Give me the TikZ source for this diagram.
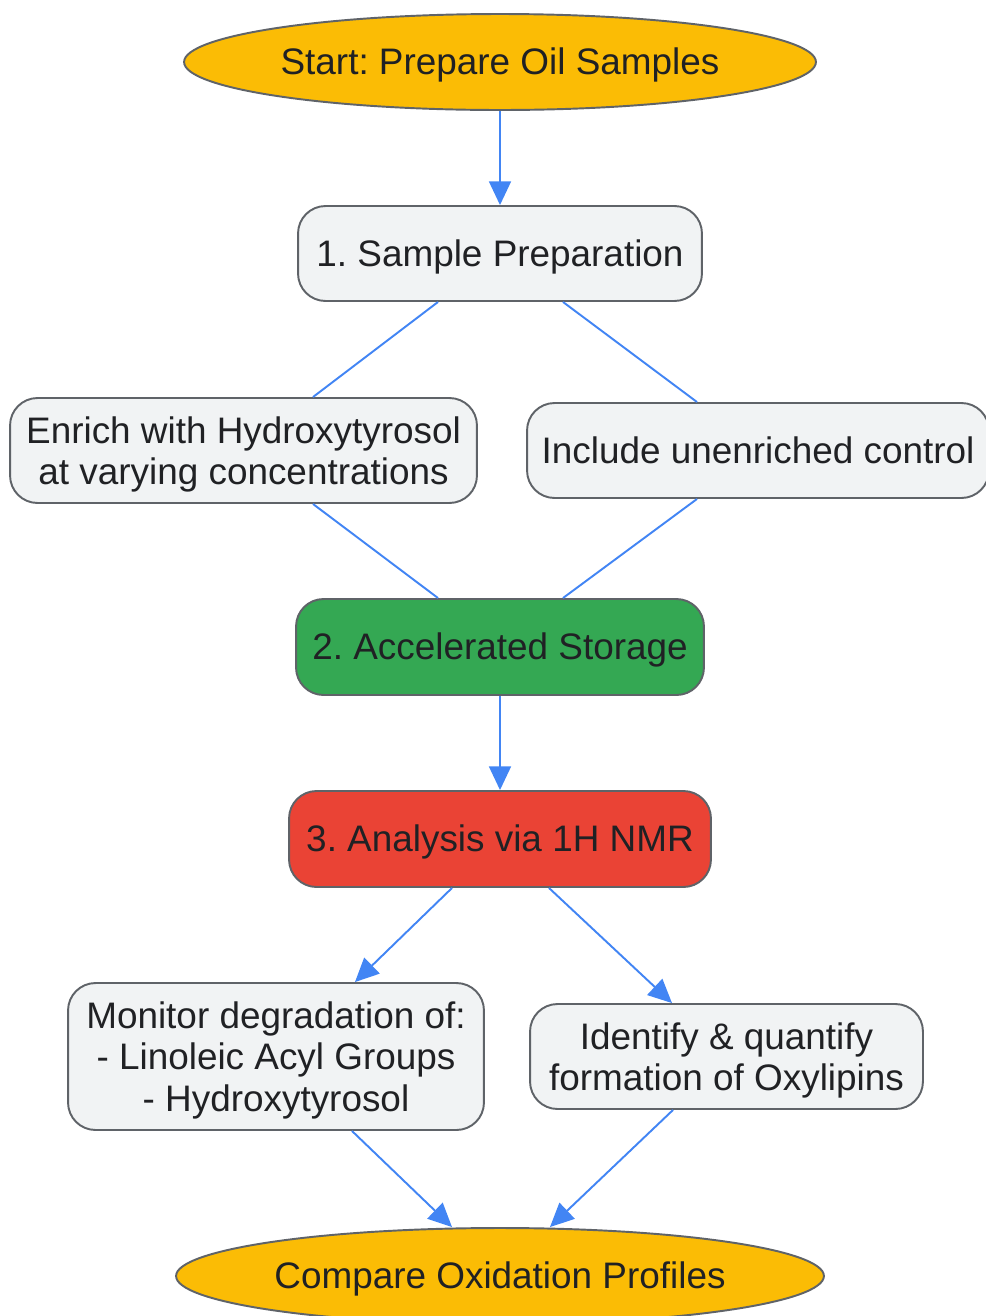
\documentclass[tikz,border=0pt]{standalone}
\usepackage{fontspec}
\setmainfont{Liberation Sans}
\usetikzlibrary{%
    arrows.meta,
    positioning,
    calc,
    shapes.geometric
}

\definecolor{termfill}{HTML}{FBBC05}
\definecolor{stepfill}{HTML}{F1F3F4}
\definecolor{storefill}{HTML}{34A853}
\definecolor{nmrfill}{HTML}{EA4335}
\definecolor{edgeblue}{HTML}{4285F4}
\definecolor{rimgray}{HTML}{5F6368}
\definecolor{inkdark}{HTML}{202124}

\newcommand{\linestrut}{\vrule height 0.905em depth 0.212em width 0pt}
\frenchspacing

\begin{document}
\begin{tikzpicture}[
      x=0.02cm, y=-0.02cm,
      every node/.style={font=\fontsize{21}{23.5}\selectfont, text=inkdark,
                         align=center,
                         execute at begin node=\linestrut,
                         execute at end node=\linestrut},
      elem/.style={rectangle, rounded corners=0.55cm, draw=rimgray,
                   line width=1.1pt, fill=stepfill, inner sep=0pt},
      term/.style={ellipse, draw=rimgray, line width=1.1pt,
                   fill=termfill, inner sep=0pt},
      multiline/.style={text depth=-1.15pt},
      link/.style={draw=edgeblue, line width=1.1pt},
      flow/.style={link, -{Triangle[length=13.5pt, width=12.5pt]}}
    ]
      \useasboundingbox (0, 0) rectangle (985, 1316);

      \node[term, minimum width=12.64cm, minimum height=1.92cm]
        (start) at (500, 62) {Start: Prepare Oil Samples};

      \node[elem, minimum width=8.08cm, minimum height=1.9cm]
        (prep) at (500, 253.5) {1. Sample Preparation};

      \node[elem, multiline, minimum width=9.34cm, minimum height=2.1cm]
        (enrich) at (243.5, 450.5)
        {Enrich with Hydroxytyrosol\\at varying concentrations};
      \node[elem, minimum width=9.24cm, minimum height=1.9cm]
        (control) at (758, 450.5) {Include unenriched control};

      \node[elem, fill=storefill, minimum width=8.16cm, minimum height=1.92cm]
        (storage) at (500, 647) {2. Accelerated Storage};

      \node[elem, fill=nmrfill, minimum width=8.44cm, minimum height=1.92cm]
        (nmr) at (500, 839) {3. Analysis via 1H NMR};

      \node[elem, multiline, minimum width=8.32cm, minimum height=2.94cm]
        (monitor) at (276, 1056.5)
        {Monitor degradation of:\\- Linoleic Acyl Groups\\- Hydroxytyrosol};
      \node[elem, multiline, minimum width=7.86cm, minimum height=2.1cm]
        (oxylipin) at (726.5, 1056.5)
        {Identify \& quantify\\formation of Oxylipins};

      \node[term, minimum width=12.96cm, minimum height=1.92cm]
        (finish) at (500, 1276) {Compare Oxidation Profiles};

      \draw[flow] (start) -- (prep);

      \draw[link] ([xshift=-1.24cm]prep.south) -- ([xshift=1.39cm]enrich.north);
      \draw[link] ([xshift=1.26cm]prep.south) -- ([xshift=-1.22cm]control.north);

      \draw[link] ([xshift=1.39cm]enrich.south) -- ([xshift=-1.24cm]storage.north);
      \draw[link] ([xshift=-1.22cm]control.south) -- ([xshift=1.26cm]storage.north);

      \draw[flow] (storage) -- (nmr);

      \draw[flow] ([xshift=-0.96cm]nmr.south) -- ([xshift=1.58cm]monitor.north);
      \draw[flow] ([xshift=0.98cm]nmr.south) -- ([xshift=-1.09cm]oxylipin.north);

      \draw[flow] ([xshift=1.52cm]monitor.south) -- ([xshift=-0.96cm]finish.north);
      \draw[flow] ([xshift=-1.07cm]oxylipin.south) -- ([xshift=1.0cm]finish.north);
    \end{tikzpicture}
\end{document}
